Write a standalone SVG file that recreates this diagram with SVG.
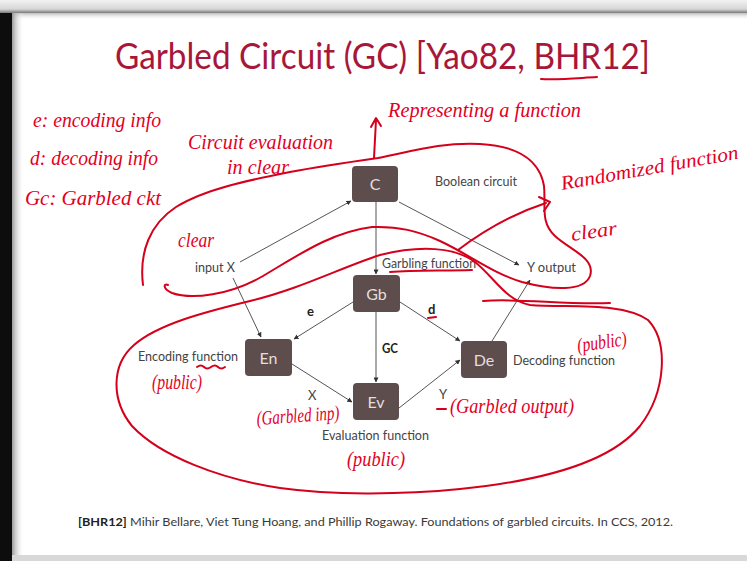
<svg xmlns="http://www.w3.org/2000/svg" width="747" height="561" viewBox="0 0 747 561">
<defs>
<linearGradient id="topg" x1="0" y1="0" x2="0" y2="1"><stop offset="0" stop-color="#f2f2f2"/><stop offset="0.7" stop-color="#d6d6d6"/><stop offset="1" stop-color="#7a7a7a"/></linearGradient>
<linearGradient id="shadeT" x1="0" y1="0" x2="0" y2="1"><stop offset="0" stop-color="#bdbdbd"/><stop offset="1" stop-color="#ffffff" stop-opacity="0"/></linearGradient>
<linearGradient id="shadeL" x1="0" y1="0" x2="1" y2="0"><stop offset="0" stop-color="#9a9a9a"/><stop offset="1" stop-color="#ffffff" stop-opacity="0"/></linearGradient>
<marker id="ah" viewBox="0 0 6 6" refX="5.5" refY="3" markerWidth="5" markerHeight="5" orient="auto" markerUnits="userSpaceOnUse"><path d="M0,0 L6,3 L0,6 z" fill="#333"/></marker>
<style>
.node rect{fill:#5d4d4d;}
.node text{fill:#e6dddd;font-family:Lato,"Liberation Sans",sans-serif;font-size:16px;text-anchor:middle;}
.conn line{stroke:#555;stroke-width:1;marker-end:url(#ah);}
.lbl{fill:#444;font-family:Lato,"Liberation Sans",sans-serif;font-size:13px;}
.bold{font-weight:bold;fill:#222;}
.hw{fill:#e3001f;font-family:"Liberation Serif",serif;font-style:italic;font-size:20px;}
.ink{fill:none;stroke:#d4001c;stroke-width:2;stroke-linecap:round;stroke-linejoin:round;}
</style>
</defs>
<rect width="747" height="561" fill="#ffffff"/>
<!-- frame -->
<rect x="0" y="0" width="747" height="13" fill="url(#topg)"/>
<rect x="12" y="13" width="735" height="7" fill="url(#shadeT)"/>
<rect x="12" y="13" width="12" height="542" fill="url(#shadeL)"/>
<rect x="0" y="13" width="12" height="548" fill="#0d0d0d"/>
<rect x="12" y="555" width="735" height="6" fill="#d8d8d8"/>

<!-- title -->
<text x="115" y="69" fill="#a8173a" font-family="Lato,'Liberation Sans',sans-serif" font-size="36" textLength="535" lengthAdjust="spacingAndGlyphs">Garbled Circuit (GC) [Yao82, BHR12]</text>
<path class="ink" d="M541,79 C560,80 578,78 597,77" stroke-width="1.6"/>

<!-- connectors -->
<g id="connectors" class="conn">
<line x1="240" y1="262" x2="351" y2="201"/>
<line x1="399" y1="202" x2="519" y2="265"/>
<line x1="376" y1="202" x2="376" y2="274"/>
<line x1="233" y1="278" x2="261" y2="337"/>
<line x1="353" y1="302" x2="294" y2="339"/>
<line x1="376" y1="312" x2="376" y2="382"/>
<line x1="400" y1="302" x2="460" y2="341"/>
<line x1="292" y1="364" x2="352" y2="402"/>
<line x1="399" y1="408" x2="460" y2="360"/>
<line x1="492" y1="341" x2="530" y2="280"/>
</g>

<!-- nodes -->
<g id="node-C" class="node"><rect x="352" y="166" width="46" height="36" rx="4"/><text x="375" y="190">C</text></g>
<g id="node-Gb" class="node"><rect x="353" y="275" width="47" height="37" rx="4"/><text x="376.5" y="299.5">Gb</text></g>
<g id="node-En" class="node"><rect x="245" y="339" width="47" height="37" rx="4"/><text x="268.5" y="363.5">En</text></g>
<g id="node-Ev" class="node"><rect x="353" y="383" width="46" height="37" rx="4"/><text x="376" y="407.5">Ev</text></g>
<g id="node-De" class="node"><rect x="461" y="341" width="46" height="37" rx="4"/><text x="484" y="365.5">De</text></g>

<!-- slide labels -->
<text class="lbl" x="435" y="186" textLength="82" lengthAdjust="spacingAndGlyphs">Boolean circuit</text>
<text class="lbl" x="195" y="272" textLength="40" lengthAdjust="spacingAndGlyphs">input X</text>
<text class="lbl" x="382" y="268" textLength="94" lengthAdjust="spacingAndGlyphs">Garbling function</text>
<text class="lbl" x="527" y="272" textLength="49" lengthAdjust="spacingAndGlyphs">Y output</text>
<text class="lbl bold" x="307" y="316" font-size="12">e</text>
<text class="lbl bold" x="428" y="314" font-size="12">d</text>
<text class="lbl bold" x="382" y="353" font-size="12" textLength="16" lengthAdjust="spacingAndGlyphs">GC</text>
<text class="lbl" x="138" y="361" textLength="100" lengthAdjust="spacingAndGlyphs">Encoding function</text>
<text class="lbl" x="513" y="365" textLength="102" lengthAdjust="spacingAndGlyphs">Decoding function</text>
<text class="lbl" x="308" y="400" font-size="11">X</text>
<text class="lbl" x="439" y="399" font-size="9">Y</text>
<text class="lbl" x="322" y="440" textLength="107" lengthAdjust="spacingAndGlyphs">Evaluation function</text>
<text x="78" y="526" fill="#3a3a3a" font-family="Lato,'Liberation Sans',sans-serif" font-size="12" textLength="595" lengthAdjust="spacingAndGlyphs"><tspan font-weight="bold" fill="#222">[BHR12]</tspan> Mihir Bellare, Viet Tung Hoang, and Phillip Rogaway. Foundations of garbled circuits. In CCS, 2012.</text>

<!-- handwritten annotations -->
<g id="annotations">
<path class="ink" d="M143,285 C139,252 150,224 176,207 C205,189 250,180 290,172 C322,166 350,162 378,158 C410,152 440,142 480,144 C520,146 540,162 544,186 C546,206 540,222 555,236 C570,250 596,258 590,276 C584,292 552,290 522,282 C492,273 470,255 440,241 C418,231 398,226 372,227 C332,232 300,254 263,276 C230,295 192,300 172,293 C163,289 163,283 168,285"/>
<path class="ink" d="M380,255 C420,245 455,247 475,262 C495,278 505,300 530,305 C570,308 622,302 648,320 C669,342 666,392 640,426 C610,463 540,481 460,489 C400,495 330,495 280,488 C220,479 160,456 132,426 C111,400 111,365 134,345 C158,324 205,312 250,301 C300,289 340,268 380,255"/>
<path class="ink" d="M483,301 C520,298 565,305 610,303"/>
<path class="ink" d="M374,158 L376,120 M371,127 L376,118 L381,126"/>
<path class="ink" d="M458,250 C482,232 512,214 546,203 M539,197 L550,202 L544,211"/>
<path class="ink" d="M390,272 C415,270 445,271 472,270" stroke-width="1.6"/>
<path class="ink" d="M428,318 L436,317" stroke-width="1.5"/>
<path class="ink" d="M437,409 L446,409" stroke-width="1.6"/>
<path class="ink" d="M197,367 q4,-3 7,0 t7,0 t7,0 t7,0" stroke-width="1.4"/>

<text class="hw" x="33" y="127" textLength="128" lengthAdjust="spacingAndGlyphs">e: encoding info</text>
<text class="hw" x="30" y="165" textLength="128" lengthAdjust="spacingAndGlyphs">d: decoding info</text>
<text class="hw" x="25" y="205" textLength="136" lengthAdjust="spacingAndGlyphs">Gc: Garbled ckt</text>
<text class="hw" x="188" y="149" textLength="145" lengthAdjust="spacingAndGlyphs">Circuit evaluation</text>
<text class="hw" x="227" y="174" textLength="62" lengthAdjust="spacingAndGlyphs">in clear</text>
<text class="hw" x="178" y="247" textLength="36" lengthAdjust="spacingAndGlyphs">clear</text>
<text class="hw" x="388" y="117" textLength="193" lengthAdjust="spacingAndGlyphs">Representing a function</text>
<text class="hw" x="562" y="190" font-size="22" textLength="180" lengthAdjust="spacingAndGlyphs" transform="rotate(-10 562 190)">Randomized function</text>
<text class="hw" x="572" y="241" textLength="46" lengthAdjust="spacingAndGlyphs" transform="rotate(-8 572 241)">clear</text>
<text class="hw" x="152" y="389" textLength="50" lengthAdjust="spacingAndGlyphs">(public)</text>
<text class="hw" x="257" y="425" textLength="83" lengthAdjust="spacingAndGlyphs" transform="rotate(-4 257 425)">(Garbled inp)</text>
<text class="hw" x="347" y="466" textLength="58" lengthAdjust="spacingAndGlyphs">(public)</text>
<text class="hw" x="578" y="352" textLength="50" lengthAdjust="spacingAndGlyphs" transform="rotate(-8 578 352)">(public)</text>
<text class="hw" x="450" y="413" textLength="124" lengthAdjust="spacingAndGlyphs">(Garbled output)</text>
</g>
</svg>
